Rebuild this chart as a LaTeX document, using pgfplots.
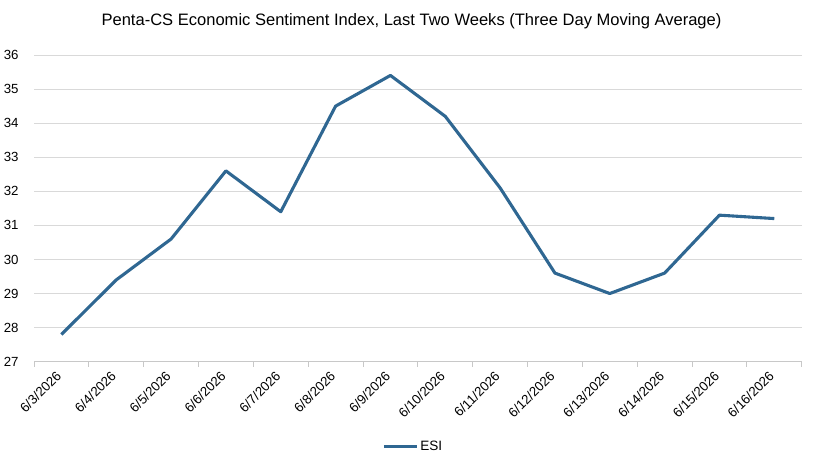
\documentclass[border=0pt]{standalone}
\usepackage{pgfplots}
\pgfplotsset{compat=1.18}
\usepackage{fontspec}
\setmainfont{Liberation Sans}
\definecolor{esiblue}{RGB}{47,103,146}
\definecolor{gridgray}{RGB}{217,217,217}
\definecolor{axisgray}{RGB}{200,200,200}

\pgfplotstableread{
idx esi
0  27.8
1  29.4
2  30.6
3  32.6
4  31.4
5  34.5
6  35.4
7  34.2
8  32.1
9  29.6
10 29.0
11 29.6
12 31.3
13 31.2
}\esidata

\begin{document}
\begin{tikzpicture}[x=1bp,y=1bp]
\useasboundingbox (0,0) rectangle (823,470);
\node[font=\fontsize{16.6}{19}\selectfont, anchor=center] at (411.5,449) {Penta-CS Economic Sentiment Index, Last Two Weeks (Three Day Moving Average)};
\begin{axis}[
  at={(34bp,108.3bp)}, anchor=south west,
  scale only axis, width=767.7bp, height=306.7bp,
  xmin=-0.5, xmax=13.5, ymin=27, ymax=36,
  axis x line*=bottom, axis y line*=left,
  x axis line style={draw=axisgray, line width=0.8bp, -},
  y axis line style={draw=none},
  xtick={0,...,13},
  xticklabels={6/3/2026,6/4/2026,6/5/2026,6/6/2026,6/7/2026,6/8/2026,6/9/2026,6/10/2026,6/11/2026,6/12/2026,6/13/2026,6/14/2026,6/15/2026,6/16/2026},
  major x tick style={draw=none},
  minor xtick={-0.5,0.5,...,13.5},
  minor x tick style={draw=axisgray, line width=0.8bp},
  minor tick length=5bp,
  tick align=outside,
  ytick={27,...,36},
  ytick style={draw=none},
  ymajorgrids, major grid style={draw=gridgray, line width=0.8bp},
  /pgf/number format/assume math mode=true,
  tick label style={font=\fontsize{13.3}{16}\selectfont, text=black},
  xticklabel style={xshift=-6.2bp, yshift=-3.9bp, rotate=45, anchor=north east, inner sep=0pt},
  yticklabel style={anchor=east, inner sep=0pt, xshift=-11bp},
  legend style={at={(0.494,-0.278)}, anchor=center, draw=none, fill=none,
    font=\fontsize{13.6}{16}\selectfont, inner sep=0pt},
  legend cell align=left,
  legend image code/.code={\draw[#1, line width=3bp] (0bp,0bp) -- (33bp,0bp);},
]
\addplot[esiblue, line width=3.1bp, line join=round] table[x=idx, y=esi] {\esidata};
\addlegendentry{ESI}
\end{axis}
\end{tikzpicture}
\end{document}
